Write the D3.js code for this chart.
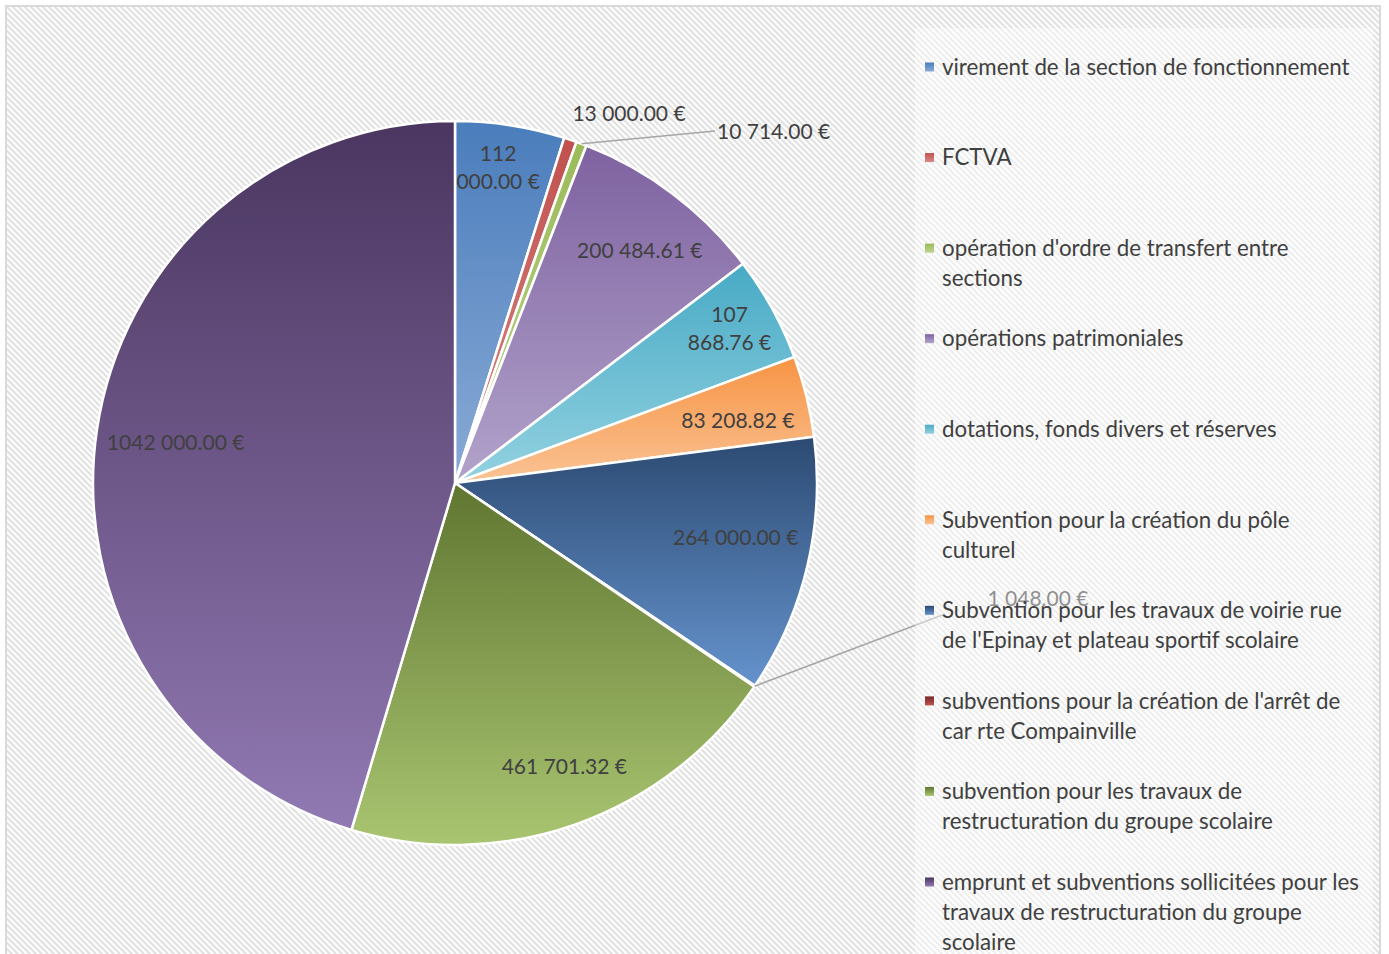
<!DOCTYPE html>
<meta charset="utf-8">
<html>
<script src="https://d3js.org/d3.v7.min.js"></script>
<style>
    body { margin: 0; background: #fff; }
    text { font-family: Lato, "Open Sans", sans-serif; }
</style>
<body>
<div id="chart"></div>
<script>
    // data
    var categories = [
        "virement de la section de fonctionnement",
        "FCTVA",
        "opération d'ordre de transfert entre sections",
        "opérations patrimoniales",
        "dotations, fonds divers et réserves",
        "Subvention pour la création du pôle culturel",
        "Subvention pour les travaux de voirie rue de l'Epinay et plateau sportif scolaire",
        "subventions pour la création de l'arrêt de car rte Compainville",
        "subvention pour les travaux de restructuration du groupe scolaire",
        "emprunt et subventions sollicitées pour les travaux de restructuration du groupe scolaire"
    ];
    var values = [112000.00, 13000.00, 10714.00, 200484.61, 107868.76, 83208.82, 264000.00, 1048.00, 461701.32, 1042000.00];
    // legend text as wrapped in the original
    var legendLines = [
        ["virement de la section de fonctionnement"],
        ["FCTVA"],
        ["opération d'ordre de transfert entre", "sections"],
        ["opérations patrimoniales"],
        ["dotations, fonds divers et réserves"],
        ["Subvention pour la création du pôle", "culturel"],
        ["Subvention pour les travaux de voirie rue", "de l'Epinay et plateau sportif scolaire"],
        ["subventions pour la création de l'arrêt de", "car rte Compainville"],
        ["subvention pour les travaux de", "restructuration du groupe scolaire"],
        ["emprunt et subventions sollicitées pour les", "travaux de restructuration du groupe", "scolaire"]
    ];
    // value label wrapping
    var labelLines = [
        ["112", "000.00 €"], ["13 000.00 €"], ["10 714.00 €"], ["200 484.61 €"], ["107", "868.76 €"],
        ["83 208.82 €"], ["264 000.00 €"], ["1 048.00 €"], ["461 701.32 €"], ["1042 000.00 €"]
    ];

    // styling
    var topColors = ["#4a7dbc", "#c0504d", "#9bbb59", "#7e62a0", "#48aac5", "#f79444", "#2c4a72", "#772c2a", "#607631", "#4a3660"];
    var bottomColors = ["#8aaad6", "#d98a88", "#bcd38d", "#b2a3cb", "#93d2e1", "#fac395", "#6593cd", "#c0504d", "#a9c571", "#9179b2"];
    // inside labels: radius factor + small angle nudge (deg) ; outside labels: offset from centre
    var labelRadius = [0.88, null, null, 0.82, 0.87, 0.80, 0.79, null, 0.84, 0.78];
    var labelNudge = [-1, 0, 0, 1.5, -0.5, 1.5, -2.3, 0, -1.5, 0];
    var outsideLabel = { 1: [174, -369, "middle"], 2: [262, -351, "start"], 7: [583, 116, "middle"] };
    var leaderEnd = { 2: [260, -352], 7: [490, 131] };

    var W = 1389, H = 954;
    var cx = 455, cy = 483, r = 362;

    var svg = d3.select("#chart").append("svg")
        .attr("width", W).attr("height", H);

    var defs = svg.append("defs");
    var pat = defs.append("pattern")
        .attr("id", "hatch").attr("patternUnits", "userSpaceOnUse")
        .attr("width", 6).attr("height", 6);
    pat.append("rect").attr("width", 6).attr("height", 6).attr("fill", "#ffffff");
    pat.append("path")
        .attr("d", "M0,0 L6,6 M-3,3 L3,9 M3,-3 L9,3")
        .attr("stroke", "#e2e2e2").attr("stroke-width", 2.2);

    values.forEach(function (v, i) {
        var g = defs.append("linearGradient").attr("id", "grad" + i)
            .attr("x1", 0).attr("y1", 0).attr("x2", 0).attr("y2", 1);
        g.append("stop").attr("offset", "0%").attr("stop-color", topColors[i]);
        g.append("stop").attr("offset", "100%").attr("stop-color", bottomColors[i]);
    });

    // background + frame
    svg.append("rect").attr("x", 6).attr("y", 6).attr("width", 1374).attr("height", 960)
        .attr("fill", "url(#hatch)").attr("stroke", "#d9d9d9").attr("stroke-width", 2);

    var pie = d3.pie().sort(null).value(function (d) { return d; });
    var arcs = pie(values);
    var arc = d3.arc().innerRadius(0).outerRadius(r);

    var g = svg.append("g").attr("transform", "translate(" + cx + "," + cy + ")");

    g.selectAll("path.slice")
        .data(arcs).enter().append("path")
        .attr("class", "slice")
        .attr("d", arc)
        .attr("fill", function (d, i) { return "url(#grad" + i + ")"; })
        .attr("stroke", "#ffffff")
        .attr("stroke-width", 2.5)
        .attr("stroke-linejoin", "round");

    // leader lines
    Object.keys(leaderEnd).forEach(function (k) {
        var d = arcs[k];
        var a = (d.startAngle + d.endAngle) / 2;
        g.append("line")
            .attr("x1", r * Math.sin(a)).attr("y1", -r * Math.cos(a))
            .attr("x2", leaderEnd[k][0]).attr("y2", leaderEnd[k][1])
            .attr("stroke", "#a6a6a6").attr("stroke-width", 1.5);
    });

    // value labels
    var fs = 21, lh = 28;
    arcs.forEach(function (d, i) {
        var x, y, anchor = "middle";
        if (labelRadius[i] !== null) {
            var a = (d.startAngle + d.endAngle) / 2 + labelNudge[i] * Math.PI / 180;
            x = labelRadius[i] * r * Math.sin(a);
            y = -labelRadius[i] * r * Math.cos(a);
        } else {
            x = outsideLabel[i][0]; y = outsideLabel[i][1]; anchor = outsideLabel[i][2];
        }
        var lines = labelLines[i];
        var t = g.append("text")
            .attr("text-anchor", anchor)
            .attr("fill", "#404040")
            .attr("font-size", fs);
        lines.forEach(function (s, j) {
            t.append("tspan")
                .attr("x", x)
                .attr("y", y + (j - (lines.length - 1) / 2) * lh)
                .attr("dy", "0.35em")
                .text(s);
        });
    });

    // legend
    var legend = svg.append("g");
    legend.append("rect").attr("x", 915).attr("y", 28).attr("width", 458).attr("height", 930)
        .attr("fill", "#ffffff").attr("opacity", 0.42);

    var ly = d3.scaleLinear().domain([0, categories.length - 1]).range([67, 882]);
    var item = legend.selectAll("g.item")
        .data(categories).enter().append("g")
        .attr("class", "item")
        .attr("transform", function (d, i) { return "translate(925," + ly(i) + ")"; });

    item.append("rect")
        .attr("x", 0).attr("y", -4.5).attr("width", 9).attr("height", 9)
        .attr("fill", function (d, i) { return "url(#grad" + i + ")"; });

    item.append("text")
        .attr("fill", "#404040")
        .attr("font-size", 22.3)
        .each(function (d, i) {
            var t = d3.select(this);
            legendLines[i].forEach(function (s, j) {
                t.append("tspan").attr("x", 17).attr("y", j * 30).attr("dy", "0.35em").text(s);
            });
        });
</script>
</body>
</html>
